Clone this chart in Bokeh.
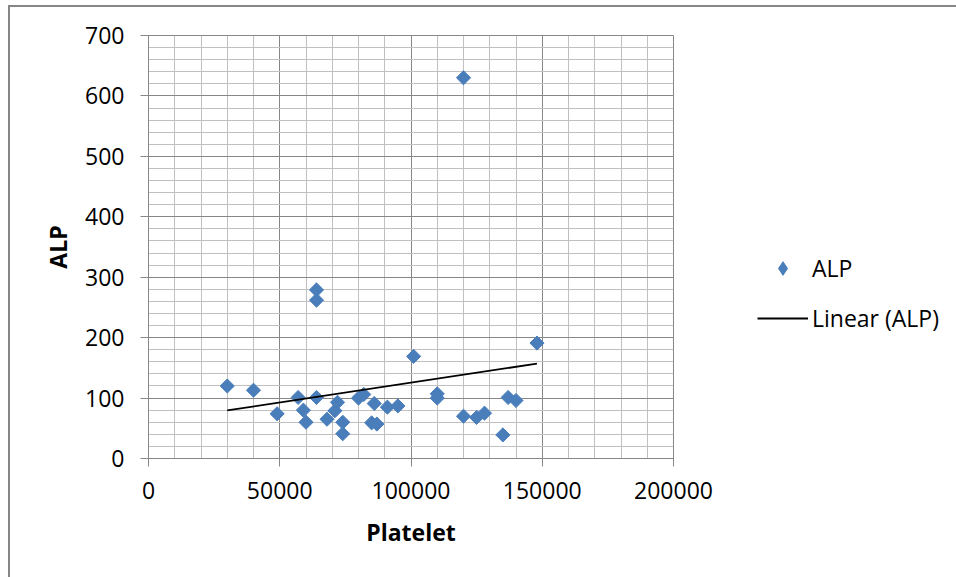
import numpy as np
from bokeh.plotting import figure
from bokeh.layouts import row
from bokeh.models import (Range1d, SingleIntervalTicker, BasicTickFormatter, Legend,
                          LegendItem, ColumnDataSource, InlineStyleSheet)
from bokeh.embed import file_html
from bokeh.resources import INLINE

# Data
platelet = [30000, 40000, 49000, 57000, 59000, 60000, 64000, 64000, 64000, 68000,
            71000, 72000, 74000, 74000, 80000, 82000, 86000, 85000, 87000, 91000,
            95000, 101000, 110000, 110000, 120000, 120000, 125000, 128000, 135000,
            137000, 140000, 148000]
alp = [120, 113, 74, 101, 80, 60, 279, 262, 101, 65,
       79, 93, 60, 41, 100, 106, 91, 59, 57, 85,
       87, 169, 107, 100, 70, 630, 68, 75, 39,
       101, 96, 191]
# Linear trend line end points
trend_x = [30000, 148000]
trend_y = [79.5, 157]
x_title = "Platelet"
y_title = "ALP"
series_name = "ALP"
trend_name = "Linear (ALP)"

FONT = "Open Sans"
GRID_MAJOR = "#878787"
GRID_MINOR = "#c0c0c0"
BLUE = "#4a7ebb"
MAIN_W = 750

p = figure(width=MAIN_W, height=577,
           x_range=Range1d(0, 200000), y_range=Range1d(0, 700),
           output_backend="svg", toolbar_location=None,
           min_border_left=148, min_border_right=MAIN_W - 673,
           min_border_top=35, min_border_bottom=119)
p.background_fill_color = "white"
p.border_fill_color = "white"
p.outline_line_color = GRID_MAJOR
p.outline_line_width = 1

xt = SingleIntervalTicker(interval=50000, num_minor_ticks=5)
yt = SingleIntervalTicker(interval=100, num_minor_ticks=5)
p.xaxis.ticker = xt
p.yaxis.ticker = yt
p.xgrid.ticker = xt
p.ygrid.ticker = yt
p.xaxis.formatter = BasicTickFormatter(use_scientific=False)
p.yaxis.formatter = BasicTickFormatter(use_scientific=False)

for g in (p.xgrid, p.ygrid):
    g.grid_line_color = GRID_MAJOR
    g.grid_line_width = 1
    g.minor_grid_line_color = GRID_MINOR
    g.minor_grid_line_width = 1

for ax in (p.xaxis, p.yaxis):
    ax.axis_line_color = GRID_MAJOR
    ax.major_tick_line_color = GRID_MAJOR
    ax.major_tick_out = 8
    ax.major_tick_in = 0
    ax.minor_tick_line_color = None
    ax.major_label_text_font = FONT
    ax.major_label_text_font_size = "23px"
    ax.major_label_text_color = "black"
    ax.axis_label_text_font = FONT
    ax.axis_label_text_font_size = "23px"
    ax.axis_label_text_font_style = "bold"
    ax.axis_label_text_color = "black"

p.xaxis.axis_label = x_title
p.yaxis.axis_label = y_title
p.xaxis.major_label_standoff = 15
p.yaxis.major_label_standoff = 16
p.xaxis.axis_label_standoff = 14
p.yaxis.axis_label_standoff = 8

src = ColumnDataSource(data=dict(x=platelet, y=alp))
p.scatter("x", "y", source=src, marker="square", size=10, angle=np.pi / 4,
          fill_color=BLUE, line_color=BLUE)
p.line(trend_x, trend_y, line_color="black", line_width=1.8)

p.stylesheets = [InlineStyleSheet(css="""
:host::after {
  content: "";
  position: absolute;
  left: 8px; top: 5px; right: 0; bottom: 0;
  border-left: 2px solid #868686;
  border-top: 2px solid #868686;
  pointer-events: none;
}
""")]

# Legend panel (second figure so the legend is not clipped by the plot frame).
# Its ranges show none of the data; its renderers only supply the legend glyphs.
LEG_W = 956 - MAIN_W
q = figure(width=LEG_W, height=577, x_range=Range1d(-2, -1), y_range=Range1d(-2, -1),
           output_backend="svg", toolbar_location=None,
           x_axis_type=None, y_axis_type=None,
           min_border_left=0, min_border_right=0,
           min_border_top=35, min_border_bottom=119)
q.outline_line_color = None
q.background_fill_color = "white"
q.border_fill_color = "white"
q.xgrid.visible = False
q.ygrid.visible = False
leg_pts = q.scatter("x", "y", source=src, marker="diamond",
                    fill_color=BLUE, line_color=BLUE)
leg_line = q.line(trend_x, trend_y, line_color="black", line_width=1.8)

legend = Legend(items=[LegendItem(label=series_name, renderers=[leg_pts]),
                       LegendItem(label=trend_name, renderers=[leg_line])],
                location=(757 - MAIN_W, 458 - 335), orientation="vertical")
legend.border_line_color = None
legend.background_fill_alpha = 0
legend.padding = 0
legend.margin = 0
legend.spacing = 16
legend.glyph_width = 51
legend.glyph_height = 34
legend.label_height = 34
legend.label_standoff = 4
legend.label_text_font = FONT
legend.label_text_font_size = "23px"
legend.label_text_color = "black"
q.add_layout(legend, "center")

q.stylesheets = [InlineStyleSheet(css="""
:host::after {
  content: "";
  position: absolute;
  left: 0; top: 5px; right: 0; bottom: 0;
  border-top: 2px solid #868686;
  pointer-events: none;
}
""")]

layout = row(p, q, spacing=0)
open("out.html", "w").write(file_html(layout, INLINE))
